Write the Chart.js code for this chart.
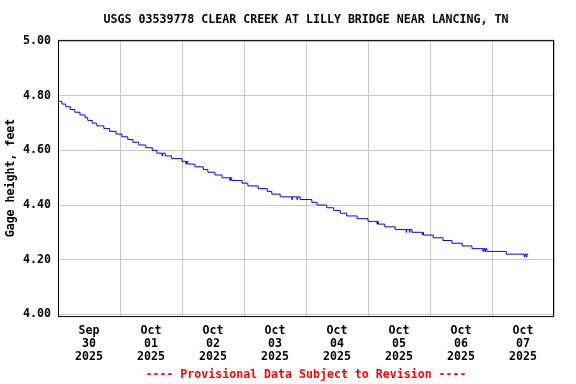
<!DOCTYPE html>
<html>
<head>
<meta charset="utf-8">
<script src="https://cdn.jsdelivr.net/npm/chart.js@4/dist/chart.umd.min.js"></script>
<style>
  body { margin: 0; background: #fff; }
</style>
</head>
<body>
<canvas id="gageChart" width="576" height="384"></canvas>
<script>
// hours since Sep 30 2025 00:00, and the gage height that starts at that time
const hoursSinceStart = [
  0, 1.5, 3, 4.75, 6.5, 8.5, 10.5, 11.5, 13.25, 15, 17.75, 20, 22.5,
  24.75, 27, 29, 31.25, 34, 36.5, 38.25, 40.25, 40.5, 41.5, 44,
  48, 49.5, 49.75, 50.25, 53, 56.25, 58, 60.75, 63.5, 66.5, 66.75, 67.25,
  71.25, 73.5, 77.5, 81, 82.75, 86, 90.5, 90.75, 92.5, 92.75, 93.75,
  98.25, 100.25, 104, 106.75, 109.25, 111.75, 115.75, 120, 123.5, 123.75, 124,
  126.5, 130.5, 134.75, 135, 136, 136.25, 137, 141, 141.25, 141.5,
  145.25, 149, 152.5, 156.5, 160.25, 164.5, 164.75, 165.25, 165.5, 166,
  173.5, 180.5, 180.75, 181.25, 181.5, 182
];
const gageHeight = [
  4.78, 4.77, 4.76, 4.75, 4.74, 4.73, 4.72, 4.71, 4.70, 4.69, 4.68, 4.67, 4.66,
  4.65, 4.64, 4.63, 4.62, 4.61, 4.60, 4.59, 4.58, 4.59, 4.58, 4.57,
  4.56, 4.55, 4.56, 4.55, 4.54, 4.53, 4.52, 4.51, 4.50, 4.49, 4.50, 4.49,
  4.48, 4.47, 4.46, 4.45, 4.44, 4.43, 4.42, 4.43, 4.42, 4.43, 4.42,
  4.41, 4.40, 4.39, 4.38, 4.37, 4.36, 4.35, 4.34, 4.33, 4.34, 4.33,
  4.32, 4.31, 4.30, 4.31, 4.30, 4.31, 4.30, 4.29, 4.30, 4.29,
  4.28, 4.27, 4.26, 4.25, 4.24, 4.23, 4.24, 4.23, 4.24, 4.23,
  4.22, 4.21, 4.22, 4.21, 4.22, 4.22
];
const dayLabels = [
  ["Sep", "30", "2025"],
  ["Oct", "01", "2025"],
  ["Oct", "02", "2025"],
  ["Oct", "03", "2025"],
  ["Oct", "04", "2025"],
  ["Oct", "05", "2025"],
  ["Oct", "06", "2025"],
  ["Oct", "07", "2025"]
];
const yTicks = [4.0, 4.2, 4.4, 4.6, 4.8, 5.0];

const monoFont = { family: "'DejaVu Sans Mono', 'Liberation Mono', monospace", size: 11.6, weight: "bold" };
const gridGray = "#c8c8c8";

// black frame round the plot area
const frame = {
  id: "frame",
  afterDraw(chart) {
    const { ctx, chartArea: a } = chart;
    ctx.save();
    ctx.strokeStyle = "#000";
    ctx.lineWidth = 1;
    ctx.strokeRect(a.left + 0.5, a.top + 0.5, a.right - a.left - 1, a.bottom - a.top);
    ctx.restore();
  }
};

const points = hoursSinceStart.map((h, i) => ({ x: h, y: gageHeight[i] }));

new Chart(document.getElementById("gageChart"), {
  type: "line",
  data: {
    datasets: [{
      data: points,
      borderColor: "#0000ff",
      borderWidth: 1,
      pointRadius: 0,
      stepped: true,
      fill: false
    }]
  },
  options: {
    responsive: false,
    animation: false,
    layout: { padding: { left: 0, right: 22, top: 0, bottom: 0 } },
    plugins: {
      legend: { display: false },
      tooltip: { enabled: false },
      title: {
        display: true,
        text: "USGS 03539778 CLEAR CREEK AT LILLY BRIDGE NEAR LANCING, TN",
        color: "#000",
        font: monoFont,
        fullSize: false,
        padding: { top: 13, bottom: 13 }
      },
      subtitle: {
        display: true,
        position: "bottom",
        text: "---- Provisional Data Subject to Revision ----",
        color: "#ff0000",
        font: monoFont,
        fullSize: false,
        padding: { top: 2, bottom: 2 }
      }
    },
    scales: {
      x: {
        type: "linear",
        min: 0,
        max: 192,
        afterBuildTicks: (scale) => {
          const t = [];
          for (let h = 0; h <= 192; h += 12) t.push({ value: h });
          scale.ticks = t;
        },
        afterFit: (scale) => { scale.height = 50; },
        grid: {
          drawTicks: false,
          color: (ctx) => (ctx.tick && ctx.tick.value % 24 === 0 ? gridGray : "rgba(0,0,0,0)"),
          lineWidth: 1
        },
        border: { display: false },
        ticks: {
          color: "#000",
          font: { ...monoFont, lineHeight: "13px" },
          padding: 8.5,
          maxRotation: 0,
          autoSkip: false,
          callback: (value) => (value % 24 === 12 ? dayLabels[(value - 12) / 24] : "")
        }
      },
      y: {
        min: 3.993,
        max: 5.005,
        afterBuildTicks: (scale) => {
          scale.ticks = yTicks.map((v) => ({ value: v }));
        },
        afterFit: (scale) => { scale.width = 58; },
        grid: { drawTicks: false, color: gridGray, lineWidth: 1 },
        border: { display: false },
        ticks: {
          color: "#000",
          font: monoFont,
          padding: 7,
          callback: (value) => value.toFixed(2)
        },
        title: {
          display: true,
          text: "Gage height, feet",
          color: "#000",
          font: monoFont,
          padding: { top: 4, bottom: 0 }
        }
      }
    }
  },
  plugins: [frame]
});
</script>
</body>
</html>
